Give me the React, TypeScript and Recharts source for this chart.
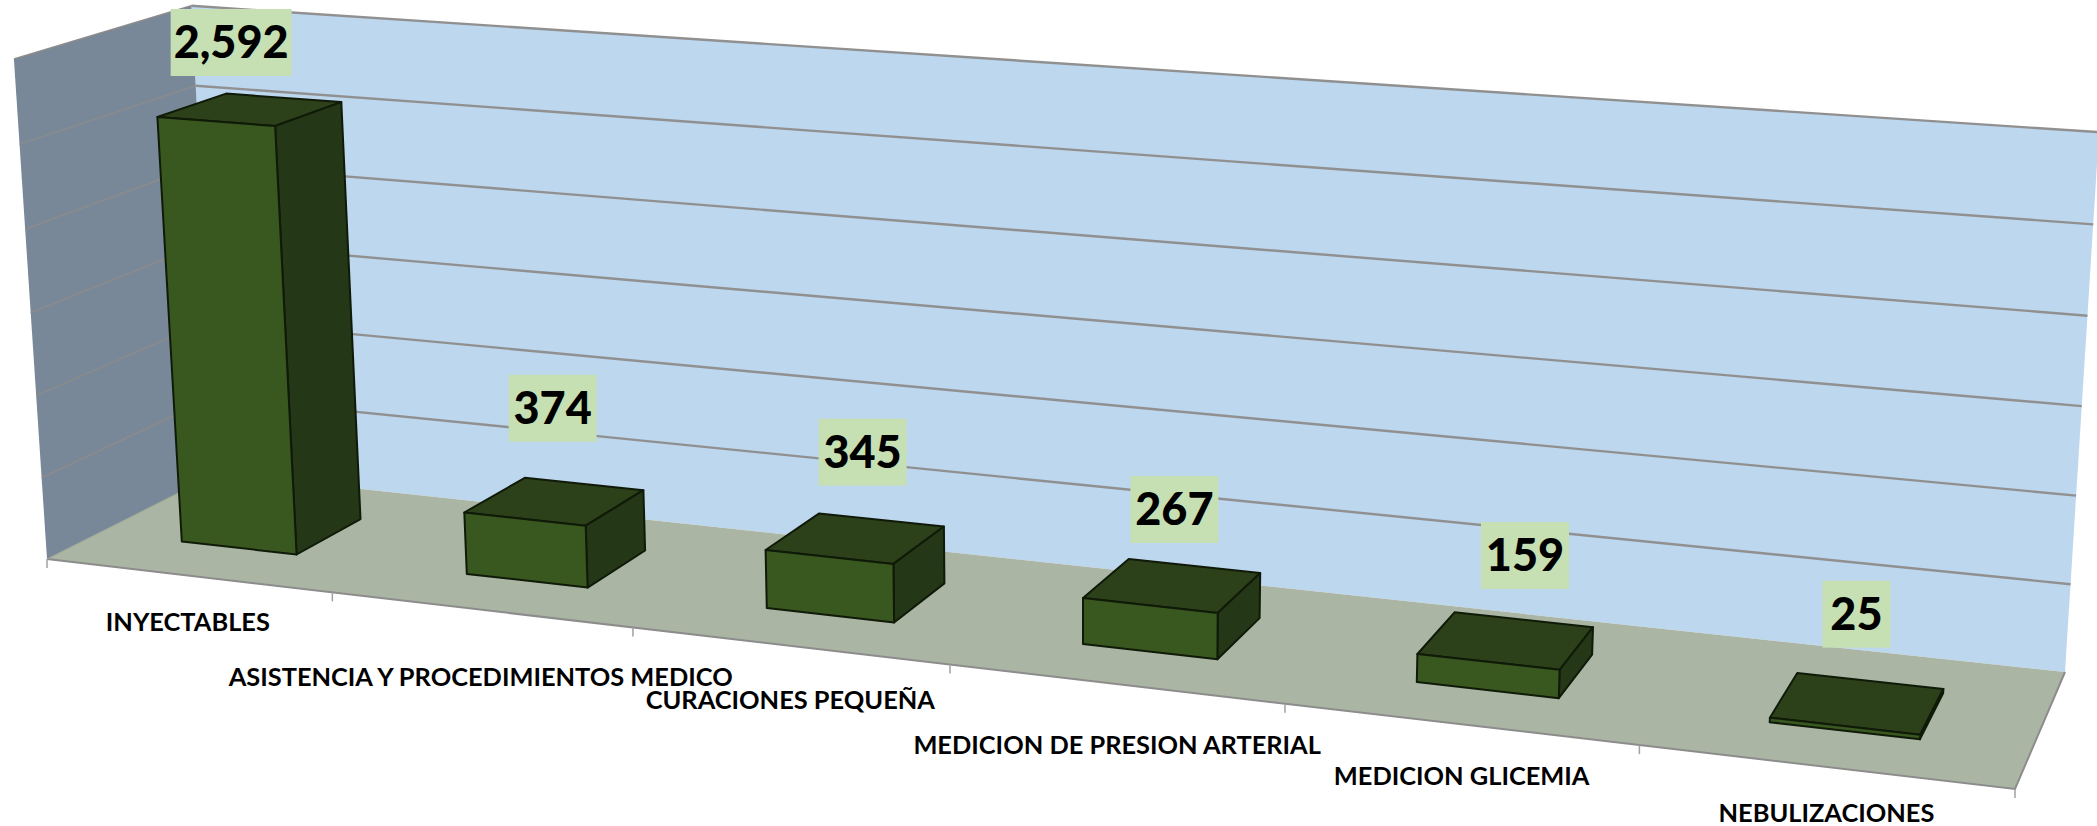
import { Bar, BarChart, CartesianGrid, LabelList, XAxis, YAxis } from "recharts";

const W = 2097;
const H = 826;
const PLOT_H = H - 1; // the x axis needs 1px of height or it draws nothing

const categories = [
  "INYECTABLES",
  "ASISTENCIA Y PROCEDIMIENTOS MEDICO",
  "CURACIONES PEQUEÑA",
  "MEDICION DE PRESION ARTERIAL",
  "MEDICION GLICEMIA",
  "NEBULIZACIONES",
];
const values = [2592, 374, 345, 267, 159, 25];
const valueTicks = [0, 500, 1000, 1500, 2000, 2500, 3000];

const data = categories.map((name, i) => ({ name, value: values[i] }));

// where the 3d box sits on screen
type Pt = [number, number];
const floorCorners: Pt[] = [[47, 559], [2015, 789], [2065, 672], [217, 473.5]];
const VANISH: Pt = [1084, 16245]; // the vertical edges meet far below the page
const WALL_LEFT = 500;
const WALL_RIGHT = 495;
const HEIGHT_BEND = 0.03; // upper gridlines sit a bit wider apart than lower ones
const DEPTH_FRONT = 0.3;
const DEPTH_BACK = 0.7;

// nudges for the label placement, same order as categories
const tickNudge: Pt[] = [[0, 47], [0, 67], [1, 54], [2, 61], [2, 52], [2, 46]];
const valueNudge: Pt[] = [[-19, -67], [-2, -93], [7, -86], [2, -76], [19, -85], [-1, -89]];

function homography(q: Pt[]) {
  const [[x0, y0], [x1, y1], [x2, y2], [x3, y3]] = q;
  const dx1 = x1 - x2, dx2 = x3 - x2, sx = x0 - x1 + x2 - x3;
  const dy1 = y1 - y2, dy2 = y3 - y2, sy = y0 - y1 + y2 - y3;
  const den = dx1 * dy2 - dx2 * dy1;
  const g = (sx * dy2 - dx2 * sy) / den;
  const h = (dx1 * sy - sx * dy1) / den;
  const a = x1 - x0 + g * x1, b = x3 - x0 + h * x3;
  const d = y1 - y0 + g * y1, e = y3 - y0 + h * y3;
  return (u: number, v: number): [number, number, number] => {
    const w = g * u + h * v + 1;
    return [(a * u + b * v + x0) / w, (d * u + e * v + y0) / w, w];
  };
}

const floorAt = homography(floorCorners);

// u across the categories, d into the depth, h up the value axis (all 0..1)
function project(u: number, d: number, h: number): Pt {
  const [fx, fy, w] = floorAt(u, d);
  const bent = h / (1 + HEIGHT_BEND * (1 - h));
  const rise = (bent * (WALL_LEFT + (WALL_RIGHT - WALL_LEFT) * u)) / w;
  const lean = (fx - VANISH[0]) / (VANISH[1] - fy);
  return [fx + lean * rise, fy - rise];
}

const poly = (pts: Pt[]) => pts.map((p) => p[0].toFixed(1) + "," + p[1].toFixed(1)).join(" ");

function Walls() {
  const backWall = [project(0, 1, 0), project(1, 1, 0), project(1, 1, 1), project(0, 1, 1)];
  const leftWall = [project(0, 0, 0), project(0, 1, 0), project(0, 1, 1), project(0, 0, 1)];
  const floor = [project(0, 0, 0), project(1, 0, 0), project(1, 1, 0), project(0, 1, 0)];
  const edges = [0, 1, 2, 3, 4, 5, 6];
  return (
    <svg width={W} height={H} style={{ position: "absolute", left: 0, top: 0 }}>
      <polygon points={poly(backWall)} fill="#BDD7EE" />
      <polygon points={poly(leftWall)} fill="#788898" />
      <polygon points={poly(floor)} fill="#ABB5A4" />
      <polyline points={poly([project(0, 0, 0), project(1, 0, 0), project(1, 1, 0)])} fill="none" stroke="#8c8c8c" strokeWidth={2} />
      <polyline points={poly([project(0, 0, 0), project(0, 1, 0)])} fill="none" stroke="#9a9f96" strokeWidth={1} />
      {edges.map((i) => {
        const [x, y] = project(i / 6, 0, 0);
        return <line key={i} x1={x} y1={y} x2={x} y2={y + 9} stroke="#a0a0a0" strokeWidth={1.5} />;
      })}
    </svg>
  );
}

function GridLine(props: any) {
  const h = 1 - props.y1 / PLOT_H;
  const a = project(0, 0, h);
  const b = project(0, 1, h);
  const c = project(1, 1, h);
  return (
    <g>
      <line x1={a[0]} y1={a[1]} x2={b[0]} y2={b[1]} stroke="#8b8b8b" strokeWidth={1.5} />
      <line x1={b[0]} y1={b[1]} x2={c[0]} y2={c[1]} stroke="#909090" strokeWidth={2.4} />
    </g>
  );
}

function Box3D(props: any) {
  const { x, y, width } = props;
  const u0 = x / W;
  const u1 = (x + width) / W;
  const h = 1 - y / PLOT_H;
  const stroke = { stroke: "#101a08", strokeWidth: 2, strokeLinejoin: "round" as const };
  return (
    <g>
      <polygon
        points={poly([project(u0, DEPTH_FRONT, h), project(u1, DEPTH_FRONT, h), project(u1, DEPTH_BACK, h), project(u0, DEPTH_BACK, h)])}
        fill="#2C4019"
        {...stroke}
      />
      <polygon
        points={poly([project(u1, DEPTH_FRONT, 0), project(u1, DEPTH_BACK, 0), project(u1, DEPTH_BACK, h), project(u1, DEPTH_FRONT, h)])}
        fill="#243716"
        {...stroke}
      />
      <polygon
        points={poly([project(u0, DEPTH_FRONT, 0), project(u1, DEPTH_FRONT, 0), project(u1, DEPTH_FRONT, h), project(u0, DEPTH_FRONT, h)])}
        fill="#39581F"
        {...stroke}
      />
    </g>
  );
}

function ValueLabel(props: any) {
  const { x, y, width, value, index } = props;
  const u = (x + width / 2) / W;
  const h = 1 - y / PLOT_H;
  const [px, py] = project(u, 0.5, h);
  const cx = px + valueNudge[index][0];
  const cy = py + valueNudge[index][1];
  const text = value.toLocaleString("en-US");
  const w = text.length === 5 ? 121 : text.length === 3 ? 88 : 68;
  return (
    <g>
      <rect x={cx - w / 2} y={cy - 33.5} width={w} height={67} fill="#C6E0B4" />
      <text x={cx} y={cy + 16} textAnchor="middle" fontFamily="Lato" fontWeight={900} fontSize={45} fill="#000">
        {text}
      </text>
    </g>
  );
}

function CategoryTick(props: any) {
  const { x, index, payload } = props;
  const [px, py] = project(x / W, 0, 0);
  return (
    <text
      x={px + tickNudge[index][0]}
      y={py + tickNudge[index][1] + 9}
      textAnchor="middle"
      fontFamily="Lato"
      fontWeight={700}
      fontSize={25.4}
      fill="#000"
    >
      {payload.value}
    </text>
  );
}

export default function App() {
  return (
    <div style={{ position: "absolute", left: 0, top: 0, width: W, height: H }}>
      <Walls />
      <BarChart width={W} height={H} data={data} margin={{ top: 0, right: 0, bottom: 0, left: 0 }} barCategoryGap="29.5%">
        <CartesianGrid vertical={false} horizontal={GridLine} horizontalValues={valueTicks} />
        <XAxis dataKey="name" height={1} axisLine={false} tickLine={false} interval={0} tick={CategoryTick} />
        <YAxis hide domain={[0, 3000]} ticks={valueTicks} />
        <Bar dataKey="value" shape={Box3D} isAnimationActive={false}>
          <LabelList dataKey="value" content={ValueLabel} />
        </Bar>
      </BarChart>
    </div>
  );
}
